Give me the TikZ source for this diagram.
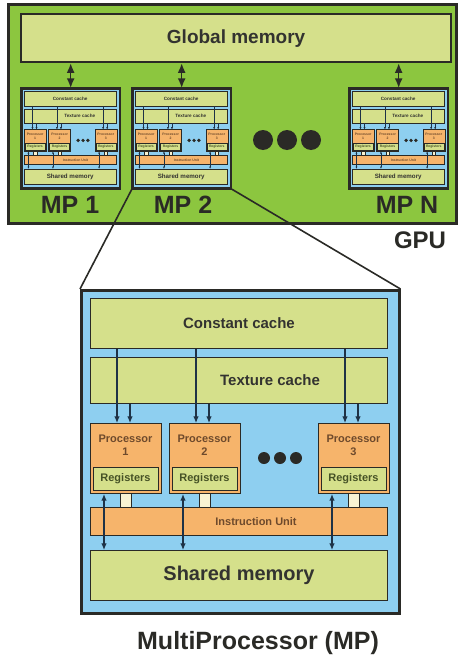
\documentclass[tikz,border=0pt]{standalone}
\usepackage{fontspec}
\setmainfont{Liberation Sans}
\usetikzlibrary{
  arrows.meta,
  calc,
  positioning,
}
\definecolor{gpugreen}{HTML}{8CC63F}
\definecolor{cachegreen}{HTML}{D5E08B}
\definecolor{mpblue}{HTML}{8ECFF0}
\definecolor{procorange}{HTML}{F6B46B}
\definecolor{cream}{HTML}{F8F3D2}
\definecolor{edge}{HTML}{2A2A26}
\definecolor{arrowblue}{HTML}{1E3246}
\definecolor{labeltext}{HTML}{333330}
\definecolor{proctext}{HTML}{6E4A2C}
\definecolor{regtext}{HTML}{465226}

\newcommand\boxlw{1pt}
\newcommand\mpfont[1]{\fontsize{#1}{#1}\selectfont\bfseries}

\tikzset{
  >={Latex[length=0pt 6,width=0pt 5]},
  block/.style={draw=edge, line width=\boxlw, inner sep=0pt, anchor=north west},
  cachebox/.style={block, fill=cachegreen, text=labeltext},
  procbox/.style={block, fill=procorange},
  regbox/.style={block, anchor=center, fill=cachegreen, text=regtext, font=\mpfont{11}},
  feed/.style={->, draw=arrowblue, line width=1.1*\boxlw},
  link/.style={<->, draw=edge, line width=1.6pt},
  zoomline/.style={draw=edge, line width=1.6pt},
  mplabel/.style={text=edge, font=\mpfont{25}},
  % one multiprocessor, 318 x 323 units, origin at its top left corner
  pics/mpblock/.style={code={
    \def\boxlw{#1}
    \node[block, fill=mpblue, line width=2.5pt, minimum width=318pt, minimum height=323pt] (frame) at (0,0) {};
    \node[cachebox, minimum width=297pt, minimum height=50pt, font=\mpfont{15}] (cc) at (10,9) {Constant cache};
    \node[cachebox, minimum width=297pt, minimum height=46pt] (tc) at (10,68) {};
    \node[text=labeltext, font=\mpfont{15}] at ($(tc.center)+(31,0)$) {Texture cache};
    \foreach \i/\x in {1/10,2/89,3/238}
    {
      \node[procbox, minimum width=71pt, minimum height=70pt] (p\i) at (\x,134) {};
      \node[regbox, minimum width=65pt, minimum height=23pt] (r\i) at (\x+35.5,189.5) {Registers};
      \node[text=proctext, font=\fontsize{11}{13}\selectfont\bfseries, align=center] at (\x+35.5,156) {Processor\\\i};
      \node[block, fill=cream, minimum width=11pt, minimum height=14pt] (s\i) at (\x+30,204) {};
      \coordinate (a\i) at (\x+27,0);
      \coordinate (b\i) at (\x+40,0);
      \coordinate (c\i) at (\x+14,0);
    }
    \foreach \x in {184,200,216}
      \fill[edge] (\x,169) circle (6);
    \node[block, fill=procorange, minimum width=297pt, minimum height=28pt] (iu) at (10,218) {};
    \node[text=proctext, font=\mpfont{11}] at ($(iu.center)+(17,0)$) {Instruction Unit};
    \node[cachebox, minimum width=297pt, minimum height=50pt, font=\mpfont{20}] (sm) at (10,261) {Shared memory};
    \foreach \i in {1,2,3}
    {
      \draw[feed] (a\i |- cc.south) -- (a\i |- p\i.north);
      \draw[feed] (b\i |- tc.south) -- (b\i |- p\i.north);
      \draw[feed, <->] (c\i |- p\i.south) -- (c\i |- sm.north);
    }
  }},
}

\begin{document}
\begin{tikzpicture}[x=1pt, y=-1pt]
  \useasboundingbox (0,0) rectangle (462,661);

  % the GPU with its global memory
  \node[block, fill=gpugreen, line width=3pt, minimum width=448pt, minimum height=219pt] (gpu) at (7,3) {};
  \node[cachebox, line width=2.2pt, minimum width=430pt, minimum height=48pt, font=\mpfont{19}] (glob) at (20,13) {Global memory};

  \pic[scale=0.31, transform shape] (mp1) at (21,88) {mpblock=0.35pt};
  \pic[scale=0.31, transform shape] (mp2) at (132,88) {mpblock=0.35pt};
  \pic[scale=0.31, transform shape] (mpn) at (349,88) {mpblock=0.35pt};

  \foreach \m in {mp1frame, mp2frame, mpnframe}
    \draw[link] (glob.south -| \m.north) -- (\m.north);

  \foreach \x in {263,287,311}
    \fill[edge] (\x,140) circle (10);

  \node[mplabel] (lab1) at (70,205) {MP 1};
  \node[mplabel] (lab2) at (183,205) {MP 2};
  \node[mplabel] (labn) at (407,205) {MP N};
  \node[mplabel, font=\mpfont{24}] (gpulab) at (420,240) {GPU};

  % one multiprocessor drawn large
  \pic (big) at (80,289) {mpblock=1pt};
  \draw[zoomline] (mp2frame.south west) -- (bigframe.north west);
  \draw[zoomline] (mp2frame.south east) -- (bigframe.north east);

  \node[mplabel] (title) at (258,643) {MultiProcessor (MP)};
\end{tikzpicture}
\end{document}
